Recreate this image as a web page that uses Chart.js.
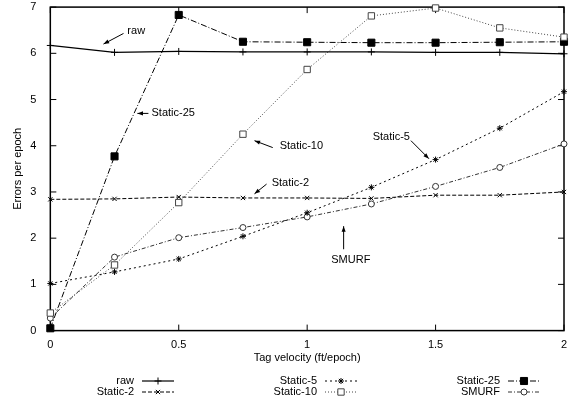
<!DOCTYPE html>
<html>
<head>
<meta charset="utf-8">
<script src="https://cdn.jsdelivr.net/npm/chart.js@4.4.0/dist/chart.umd.min.js"></script>
<style>
  html, body { margin: 0; padding: 0; background: #fff; }
  #wrap { width: 574px; height: 400px; }
</style>
</head>
<body>
<div id="wrap"><canvas id="errChart" width="574" height="400"></canvas></div>
<script>
// Data
const velocity = [0, 0.25, 0.5, 0.75, 1, 1.25, 1.5, 1.75, 2];
const rawErr      = [6.17, 6.02, 6.04, 6.03, 6.03, 6.03, 6.02, 6.02, 5.99];
const static2Err  = [2.84, 2.85, 2.89, 2.87, 2.87, 2.86, 2.93, 2.93, 3.00];
const static5Err  = [1.02, 1.27, 1.55, 2.04, 2.55, 3.10, 3.70, 4.38, 5.17];
const static10Err = [0.38, 1.42, 2.77, 4.25, 5.65, 6.81, 6.98, 6.55, 6.35];
const static25Err = [0.05, 3.77, 6.83, 6.25, 6.24, 6.23, 6.23, 6.24, 6.25];
const smurfErr    = [0.27, 1.59, 2.01, 2.23, 2.46, 2.74, 3.12, 3.53, 4.04];
const xTicks = [0, 0.5, 1, 1.5, 2];
const yTicks = [0, 1, 2, 3, 4, 5, 6, 7];

// arrow labels (data coords)
const notes = [
  { text: "raw",       tx: 0.30,  ty: 6.48, from: [0.285, 6.43], to: [0.207, 6.20], align: "left" },
  { text: "Static-25", tx: 0.394, ty: 4.70, from: [0.382, 4.70], to: [0.339, 4.70], align: "left" },
  { text: "Static-10", tx: 0.893, ty: 4.00, from: [0.866, 3.96], to: [0.795, 4.11], align: "left" },
  { text: "Static-2",  tx: 0.862, ty: 3.20, from: [0.842, 3.17], to: [0.795, 2.96], align: "left" },
  { text: "Static-5",  tx: 1.255, ty: 4.20, from: [1.404, 4.11], to: [1.474, 3.72], align: "left" },
  { text: "SMURF",     tx: 1.17,  ty: 1.52, from: [1.142, 1.76], to: [1.142, 2.26], align: "center" }
];

const FONT = "'Liberation Sans', Arial, sans-serif";
const pts = arr => arr.map((v, i) => ({ x: velocity[i], y: v }));

function series(label, data, dash, style, radius, fill, color, width) {
  return {
    label: label,
    data: pts(data),
    borderColor: color,
    borderWidth: width,
    borderDash: dash,
    pointStyle: style,
    pointRadius: radius,
    pointBorderColor: color,
    pointBackgroundColor: fill,
    pointBorderWidth: 1,
    tension: 0,
    clip: false
  };
}

const datasets = [
  series("raw",       rawErr,      [],            "cross",    3.5, "#000", "#000", 1.2),
  series("Static-2",  static2Err,  [4, 2],        "crossRot", 3,   "#000", "#000", 1),
  series("Static-5",  static5Err,  [2, 3],        "star",     3,   "#000", "#000", 1),
  series("Static-10", static10Err, [1, 2],        "rect",     4.5, "#fff", "#444", 1),
  series("Static-25", static25Err, [6, 2, 1, 2],  "rect",     5,   "#000", "#000", 1),
  series("SMURF",     smurfErr,    [4, 2, 1, 2],  "circle",   3,   "#fff", "#333", 1)
];

// legend order: column by column like gnuplot
const legendOrder = [0, 2, 4, 1, 3, 5];

const framePlugin = {
  id: "frame",
  beforeDatasetsDraw(chart) {
    const { ctx, chartArea: a, scales } = chart;
    ctx.save();
    ctx.strokeStyle = "#000";
    ctx.lineWidth = 1.5;
    ctx.setLineDash([]);
    ctx.strokeRect(a.left, a.top, a.right - a.left, a.bottom - a.top);
    ctx.lineWidth = 1;
    yTicks.forEach(v => {
      const y = scales.y.getPixelForValue(v);
      ctx.beginPath();
      ctx.moveTo(a.left, y); ctx.lineTo(a.left + 6, y);
      ctx.moveTo(a.right, y); ctx.lineTo(a.right - 6, y);
      ctx.stroke();
    });
    xTicks.forEach(v => {
      const x = scales.x.getPixelForValue(v);
      ctx.beginPath();
      ctx.moveTo(x, a.bottom); ctx.lineTo(x, a.bottom - 6);
      ctx.moveTo(x, a.top); ctx.lineTo(x, a.top + 6);
      ctx.stroke();
    });
    ctx.restore();
  },
  afterDraw(chart) {
    const { ctx, scales } = chart;
    ctx.save();
    ctx.font = "11px " + FONT;
    ctx.fillStyle = "#000";
    ctx.strokeStyle = "#000";
    ctx.lineWidth = 1;
    ctx.textBaseline = "middle";

    // arrows + labels
    notes.forEach(n => {
      const x1 = scales.x.getPixelForValue(n.from[0]), y1 = scales.y.getPixelForValue(n.from[1]);
      const x2 = scales.x.getPixelForValue(n.to[0]),   y2 = scales.y.getPixelForValue(n.to[1]);
      ctx.setLineDash([]);
      ctx.beginPath(); ctx.moveTo(x1, y1); ctx.lineTo(x2, y2); ctx.stroke();
      const ang = Math.atan2(y2 - y1, x2 - x1), h = 6;
      ctx.beginPath();
      ctx.moveTo(x2, y2);
      ctx.lineTo(x2 - h * Math.cos(ang - 0.35), y2 - h * Math.sin(ang - 0.35));
      ctx.lineTo(x2 - h * Math.cos(ang + 0.35), y2 - h * Math.sin(ang + 0.35));
      ctx.closePath(); ctx.fill();
      ctx.textAlign = n.align;
      ctx.fillText(n.text, scales.x.getPixelForValue(n.tx), scales.y.getPixelForValue(n.ty));
    });

    // legend: text right, sample line with marker
    const colRight = [134, 317, 500], rowY = [381, 392];
    legendOrder.forEach((di, k) => {
      const ds = chart.data.datasets[di];
      const col = k % 3, row = Math.floor(k / 3);
      const tx = colRight[col], y = rowY[row];
      ctx.textAlign = "right";
      ctx.fillStyle = "#000";
      ctx.fillText(ds.label, tx, y);
      const sx = tx + 8, ex = tx + 40;
      ctx.strokeStyle = ds.borderColor;
      ctx.lineWidth = ds.borderWidth;
      ctx.setLineDash(ds.borderDash);
      ctx.beginPath(); ctx.moveTo(sx, y); ctx.lineTo(ex, y); ctx.stroke();
      ctx.setLineDash([]);
      ctx.lineWidth = 1;
      ctx.fillStyle = ds.pointBackgroundColor;
      ctx.strokeStyle = ds.pointBorderColor;
      Chart.helpers.drawPoint(ctx, { pointStyle: ds.pointStyle, radius: ds.pointRadius, borderWidth: 1, rotation: 0 }, (sx + ex) / 2, y);
    });
    ctx.restore();
  }
};

const ctx = document.getElementById("errChart").getContext("2d");
const errChart = new Chart(ctx, {
  type: "line",
  data: { datasets: datasets },
  options: {
    responsive: false,
    animation: false,
    layout: { padding: { left: 11, right: 10, top: 7, bottom: 35 } },
    plugins: { legend: { display: false }, tooltip: { enabled: false } },
    scales: {
      x: {
        type: "linear", min: 0, max: 2,
        afterBuildTicks: s => { s.ticks = xTicks.map(v => ({ value: v })); },
        ticks: { color: "#000", font: { family: FONT, size: 11 }, padding: 0, maxRotation: 0, callback: v => String(v) },
        grid: { display: false },
        border: { display: false },
        title: { display: true, text: "Tag velocity (ft/epoch)", color: "#000", font: { family: FONT, size: 11 }, padding: { top: 0, bottom: 0 } }
      },
      y: {
        min: 0, max: 7,
        afterBuildTicks: s => { s.ticks = yTicks.map(v => ({ value: v })); },
        ticks: { color: "#000", font: { family: FONT, size: 11, lineHeight: 0.2 }, padding: 6 },
        grid: { display: false },
        border: { display: false },
        title: { display: true, text: "Errors per epoch", color: "#000", font: { family: FONT, size: 11 }, padding: { top: 0, bottom: 0 } }
      }
    }
  },
  plugins: [framePlugin]
});
</script>
</body>
</html>
